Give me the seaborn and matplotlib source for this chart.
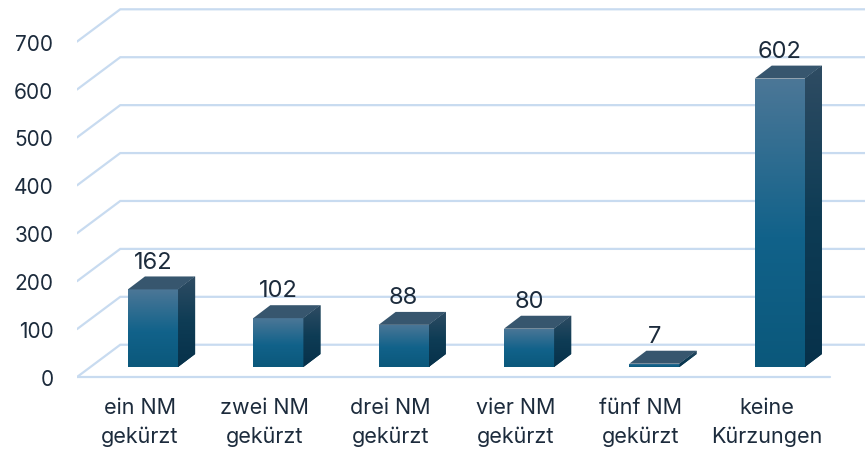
import numpy as np
import pandas as pd
import matplotlib.pyplot as plt
import seaborn as sns
from matplotlib.patches import Polygon
from matplotlib.colors import LinearSegmentedColormap

# data
categories = ['ein NM\ngekürzt', 'zwei NM\ngekürzt', 'drei NM\ngekürzt',
              'vier NM\ngekürzt', 'fünf NM\ngekürzt', 'keine\nKürzungen']
counts = [162, 102, 88, 80, 7, 602]
y_ticks = [0, 100, 200, 300, 400, 500, 600, 700]

df = pd.DataFrame({'kategorie': categories, 'anzahl': counts})

# fake 3d geometry (category units / value units)
floor_y = -20.9      # front edge of the floor, relative to bar base
floor_dx = -0.107    # front edge x shift relative to bar front
wall_dx, wall_dy = 0.345, 67.4   # full depth of the box
bar_dx, bar_dy = 0.136, 27.0     # depth of each bar
x_left, x_right = -0.606, 5.40

text_col = '#1c2b3c'
grid_col = '#c8dbf0'

sns.set_theme(style='white')
plt.rcParams['font.family'] = ['Inter', 'DejaVu Sans']

fig = plt.figure(figsize=(8.65, 4.52), dpi=100)
ax = fig.add_axes([77 / 865, 72 / 452, 788 / 865, 380 / 452])

sns.barplot(data=df, x='kategorie', y='anzahl', width=0.4, color='#0c5a7e',
            ax=ax, zorder=3, linewidth=0)

# walls: left side lines + back wall lines
for v in y_ticks:
    y0 = v + floor_y
    ax.plot([x_left, x_left + wall_dx, 6.5], [y0, y0 + wall_dy, y0 + wall_dy],
            color=grid_col, lw=1.6, zorder=1, solid_joinstyle='miter')
ax.plot([x_left, x_right], [floor_y, floor_y], color=grid_col, lw=1.6, zorder=1)

front_cmap = LinearSegmentedColormap.from_list(
    'front', [(0, '#0b587b'), (0.45, '#11628a'), (1, '#4c7797')])
side_cmap = LinearSegmentedColormap.from_list(
    'side', [(0, '#07314a'), (0.5, '#0e3c55'), (1, '#2f4c63')])
grad = np.linspace(0, 1, 256).reshape(-1, 1)

for p, n in zip(list(ax.patches), counts):
    x0, w, h = p.get_x(), p.get_width(), p.get_height()
    # front face gradient
    im = ax.imshow(grad, cmap=front_cmap, origin='lower', aspect='auto',
                   extent=[x0, x0 + w, 0, h], zorder=4)
    im.set_clip_path(p)
    # side face
    side = Polygon([(x0 + w, 0), (x0 + w + bar_dx, bar_dy),
                    (x0 + w + bar_dx, h + bar_dy), (x0 + w, h)],
                   closed=True, facecolor='#0a3a52', edgecolor='none', zorder=3)
    ax.add_patch(side)
    im2 = ax.imshow(grad, cmap=side_cmap, origin='lower', aspect='auto',
                    extent=[x0 + w, x0 + w + bar_dx, 0, h + bar_dy], zorder=4)
    im2.set_clip_path(side)
    # top face
    top = Polygon([(x0, h), (x0 + w, h), (x0 + w + bar_dx, h + bar_dy),
                   (x0 + bar_dx, h + bar_dy)],
                  closed=True, facecolor='#37566e', edgecolor='none', zorder=4)
    ax.add_patch(top)
    ax.text(x0 + w / 2, h + bar_dy + 8, str(n), ha='center', va='bottom',
            fontsize=17, color=text_col, zorder=5)

ax.set_autoscale_on(False)
ax.set_xlim(x_left, 5.68)
ax.set_ylim(-25, 768)

ax.set_yticks([v + floor_y for v in y_ticks])
ax.set_yticklabels([str(v) for v in y_ticks])
ax.set_xticks([i + floor_dx for i in range(len(categories))])
ax.set_xticklabels(categories, linespacing=1.5)
ax.tick_params(axis='y', length=0, pad=17, labelsize=15, labelcolor=text_col)
ax.tick_params(axis='x', length=0, pad=13, labelsize=15.5, labelcolor=text_col)
ax.set_xlabel('')
ax.set_ylabel('')
sns.despine(ax=ax, left=True, bottom=True)
ax.grid(False)

fig.savefig('out.png', dpi=100)
